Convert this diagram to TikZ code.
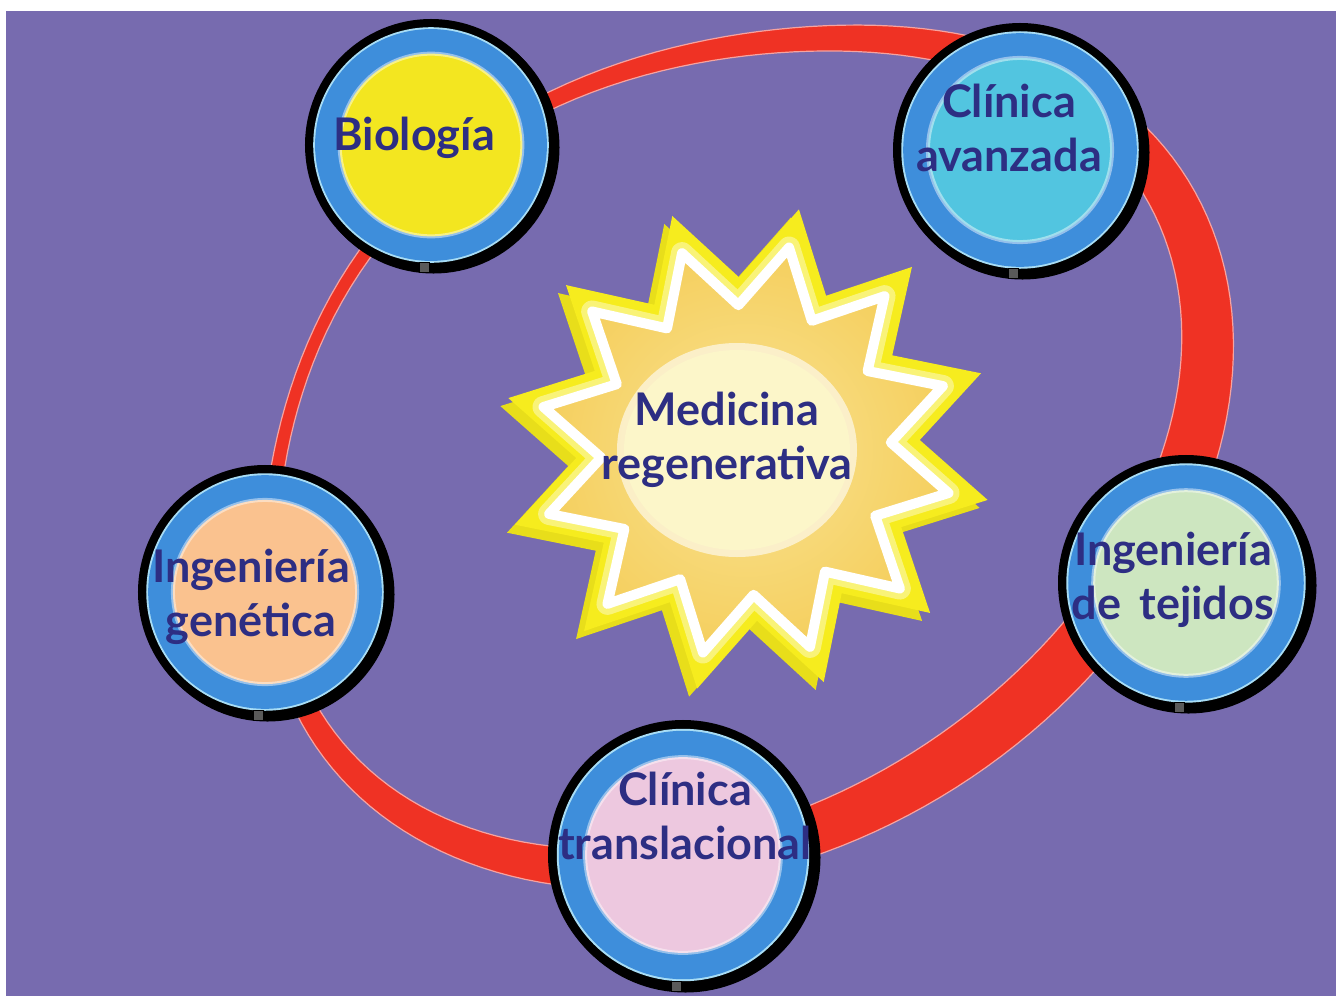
\documentclass[tikz,border=0pt]{standalone}
\usepackage{fontspec}
\setmainfont{Lato}
\usetikzlibrary{calc}

\definecolor{bgpurple}{HTML}{776BAF}
\definecolor{ringred}{HTML}{EF3224}
\definecolor{ringedge}{HTML}{F6A3A0}
\definecolor{ringblue}{HTML}{3E8EDB}
\definecolor{rimlight}{HTML}{A8DDF5}
\definecolor{navy}{HTML}{2D2E83}
\definecolor{bioyellow}{HTML}{F3E620}
\definecolor{avzcyan}{HTML}{52C5E0}
\definecolor{tejgreen}{HTML}{CDE6C0}
\definecolor{genpeach}{HTML}{FAC28F}
\definecolor{trapink}{HTML}{EDC8DF}
\definecolor{staryellow}{HTML}{F6EC1E}
\definecolor{starshade}{HTML}{E8DE1A}
\definecolor{stargold}{HTML}{F5CF5E}
\definecolor{starlight}{HTML}{F9E394}
\definecolor{centerpale}{HTML}{FCF6C9}
\definecolor{tabgray}{HTML}{5A5A5A}

\begin{document}
\begin{tikzpicture}[x=1pt,y=-1pt,
  declare function={
    cb(\ang)=max(0,cos(\ang-260));
    rk(\ang)=1+0.10*cb(\ang)*cb(\ang)*cb(\ang)*cb(\ang)*cb(\ang)*cb(\ang);
    rt(\ang)=34+22*cos(\ang-60);
    rx(\ang,\sg)=740+rk(\ang)*((503+\sg*rt(\ang)/2)*cos(\ang)*0.8387+(370+\sg*rt(\ang)/2)*sin(\ang)*0.5446);
    ry(\ang,\sg)=455+rk(\ang)*(-(503+\sg*rt(\ang)/2)*cos(\ang)*0.5446+(370+\sg*rt(\ang)/2)*sin(\ang)*0.8387);
  },
  disc/.style 2 args={circle, inner sep=0pt, minimum size=1.45*#2pt, fill=#1,
    preaction={draw=black, line width=0.55*#2pt, transform canvas={shift={(2.5pt,-2.5pt)}}},
    preaction={draw=black, line width=0.55*#2pt},
    preaction={draw=rimlight, line width=0.42*#2pt},
    preaction={draw=ringblue, line width=0.39*#2pt},
    postaction={draw=white, draw opacity=0.45, line width=4pt}},
  lbl/.style={text=navy, font=\bfseries\fontsize{45}{54}\selectfont,
    align=center, anchor=base, inner sep=0pt},
  tab/.style={fill=tabgray, draw=black, line width=1pt},
]
% page and background
\useasboundingbox (0,0) rectangle (1336,996);
\fill[white] (0,0) rectangle (1336,996);
\fill[bgpurple] (6,11) rectangle (1336,996);

% tapered red ring
\fill[ringred, even odd rule]
  plot[domain=0:360, samples=181] ({rx(\x,1)},{ry(\x,1)}) -- cycle
  plot[domain=0:360, samples=181] ({rx(\x,-1)},{ry(\x,-1)}) -- cycle;
\draw[ringedge, line width=1.2pt]
  plot[domain=0:360, samples=181] ({rx(\x,1)},{ry(\x,1)}) -- cycle;
\draw[ringedge, line width=1.2pt]
  plot[domain=0:360, samples=181] ({rx(\x,-1)},{ry(\x,-1)}) -- cycle;

% central sun: shaded rim, bright outer star, white inset star, pale core
\fill[starshade, shift={(740,457)}] (12:245)
  \foreach \k in {0,...,11}{ -- ({12+30*\k}:245) -- ({27+30*\k}:172)} -- cycle;
\fill[staryellow, shift={(748,449)}] (12:245)
  \foreach \k in {0,...,11}{ -- ({12+30*\k}:245) -- ({27+30*\k}:172)} -- cycle;
\draw[white, opacity=0.4, line width=22pt, line join=round, shift={(746,450)}] (12:207)
  \foreach \k in {0,...,11}{ -- ({12+30*\k}:207) -- ({27+30*\k}:145)} -- cycle;
\draw[white, line width=10pt, line join=round, inner color=starlight, outer color=stargold,
  shift={(746,450)}] (12:207)
  \foreach \k in {0,...,11}{ -- ({12+30*\k}:207) -- ({27+30*\k}:145)} -- cycle;
\fill[white, opacity=0.6] (737,450) ellipse [x radius=120pt, y radius=107pt];
\fill[centerpale] (737,450) ellipse [x radius=113pt, y radius=100pt];
\node[lbl] (med) at (727,479) {Medicina\\regenerativa};

% discs
\node[disc={bioyellow}{126}] (bio) at (431,145) {};
\node[disc={avzcyan}{127}] (avz) at (1020,150) {};
\node[disc={tejgreen}{128}] (tej) at (1186,583) {};
\node[disc={genpeach}{127}] (gen) at (265,592) {};
\node[disc={trapink}{135}] (tra) at (683,855) {};

% small hanging tabs under each disc
\foreach \n/\R in {bio/126, avz/127, tej/128, gen/127, tra/135}
  \draw[tab] ($(\n.center)+(-12,\R-9)$) rectangle ++(10,10);

% labels (anchored on the baseline of their last line)
\node[lbl] (bio-t) at (414,150) {Biología};
\node[lbl] (avz-t) at (1009,171) {Clínica\\avanzada};
\node[lbl] (tej-t) at (1173,619) {Ingeniería\\de\hspace{0.4em}tejidos};
\node[lbl] (gen-t) at (251,636) {Ingeniería\\genética};
\node[lbl] (tra-t) at (685,859) {Clínica\\translacional};
\end{tikzpicture}
\end{document}
